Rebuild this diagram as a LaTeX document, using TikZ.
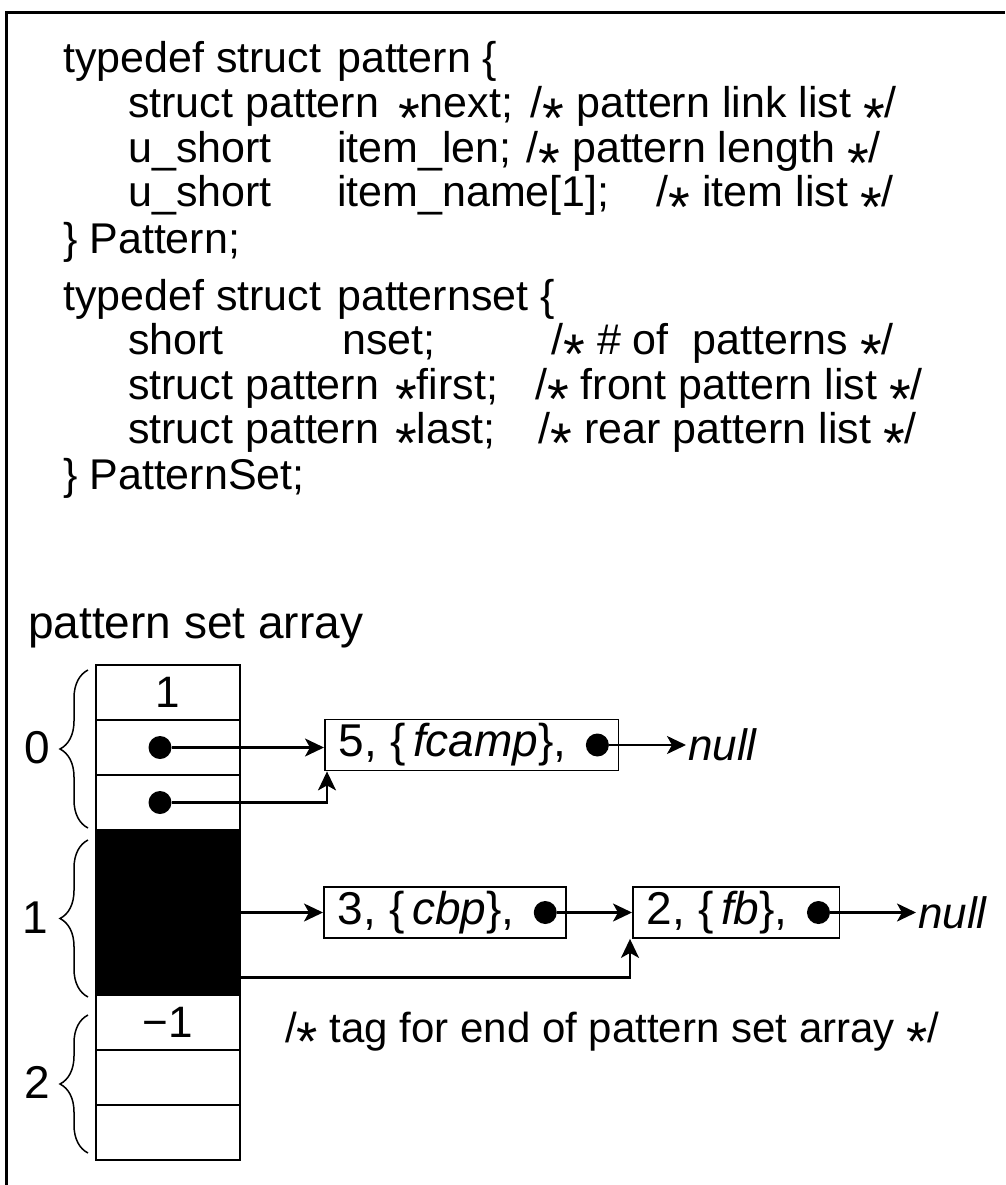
\documentclass[tikz,border=0pt]{standalone}
\usepackage{fontspec}
\setmainfont{Liberation Sans}
\usetikzlibrary{arrows.meta,decorations.pathreplacing,calc}

\newcommand{\cst}{\smash{\raisebox{-0.45em}{\scalebox{1.3}{*}}}}

\tikzset{
  code/.style={anchor=base west, inner sep=0pt, font=\fontsize{43}{45}\selectfont},
  coderight/.style={anchor=base east, inner sep=0pt, font=\fontsize{43}{45}\selectfont},
  cell/.style={draw, line width=1.8pt, minimum width=144pt, minimum height=55pt, inner sep=0pt, font=\fontsize{44}{46}\selectfont},
  rec/.style={draw, line width=1.8pt, anchor=west, minimum height=51pt, inner xsep=14pt, inner ysep=0pt, font=\fontsize{46}{50}\selectfont},
  ptr/.style={circle, fill, inner sep=0pt, minimum size=23pt},
  link/.style={line width=2.2pt, -{Stealth[length=19pt,width=18pt,inset=5pt]}},
  grp/.style={decorate, decoration={brace, amplitude=28pt}, line width=1.5pt},
  lab/.style={font=\fontsize{46}{50}\selectfont},
  nul/.style={anchor=west, inner sep=2pt, font=\fontsize{44}{48}\selectfont\itshape},
}

\begin{document}
\begin{tikzpicture}[x=1pt,y=-1pt]
  \useasboundingbox (0,0) rectangle (1005,1185);
  % frame
  \draw[line width=3pt] (6,1185) -- (6,13) -- (1005,13);

  % struct pattern
  \node[code] (l1a) at (63,73) {typedef struct};
  \node[code] (l1b) at (337,73) {pattern \{};
  \node[code] (l2a) at (128,118) {struct pattern};
  \node[code] (l2b) at (398,118) {\cst next;};
  \node[coderight] (l2c) at (897,118) {/\cst\ pattern link list \cst/};
  \node[code] (l3a) at (128,163) {u\_short};
  \node[code] (l3b) at (337,163) {item\_len;};
  \node[coderight] (l3c) at (881,163) {/\cst\ pattern length \cst/};
  \node[code] (l4a) at (128,207) {u\_short};
  \node[code] (l4b) at (337,207) {item\_name[1];};
  \node[coderight] (l4c) at (894,207) {/\cst\ item list \cst/};
  \node[code] (l5a) at (63,253) {\} Pattern;};

  % struct patternset
  \node[code] (l6a) at (63,310) {typedef struct};
  \node[code] (l6b) at (337,310) {patternset \{};
  \node[code] (l7a) at (128,354) {short};
  \node[code] (l7b) at (342,354) {nset;};
  \node[coderight] (l7c) at (894,354) {/\cst\ \# of\ \ patterns \cst/};
  \node[code] (l8a) at (128,399) {struct pattern};
  \node[code] (l8b) at (395,399) {\cst first;};
  \node[coderight] (l8c) at (923,399) {/\cst\ front pattern list \cst/};
  \node[code] (l9a) at (128,443) {struct pattern};
  \node[code] (l9b) at (395,443) {\cst last;};
  \node[coderight] (l9c) at (917,443) {/\cst\ rear pattern list \cst/};
  \node[code] (l10a) at (63,489) {\} PatternSet;};

  % array
  \node[anchor=base west, inner sep=0pt, font=\fontsize{46}{50}\selectfont] (hd) at (28,638) {pattern set array};
  \foreach \i/\v/\c in {1/1/white,2/{}/white,3/{}/white,4/{}/black,5/{}/black,6/{}/black,7/{−1}/white,8/{}/white,9/{}/white}
    \node[cell, fill=\c] (c\i) at (168,637.5+55*\i) {\v};

  \draw[grp] (88,828) -- (88,670);
  \draw[grp] (88,997) -- (88,840);
  \draw[grp] (88,1153) -- (88,1015);
  \node[lab] (g0) at (37,748) {0};
  \node[lab] (g1) at (35,918) {1};
  \node[lab] (g2) at (37,1082) {2};

  \node[ptr] (da) at ([xshift=-8pt]c2.center) {};
  \node[ptr] (db) at ([xshift=-8pt]c3.center) {};

  % pattern lists
  \node[rec] (p5) at (324,745) {5, \{\,\textit{fcamp}\},\rule{38pt}{0pt}};
  \node[ptr] (q5) at ([xshift=-22pt]p5.east) {};
  \node[nul] (n1) at (686,745) {null};

  \node[rec] (p3) at (323,912.5) {3, \{\,\textit{cbp}\},\rule{38pt}{0pt}};
  \node[ptr] (q3) at ([xshift=-22pt]p3.east) {};
  \node[rec] (p2) at (632,912.5) {2, \{\,\textit{fb}\},\rule{38pt}{0pt}};
  \node[ptr] (q2) at ([xshift=-22pt]p2.east) {};
  \node[nul] (n2) at (916,912.5) {null};

  \draw[link] (da) -- (da -| p5.west);
  \draw[link] (db) -| ([xshift=3pt]p5.south west);
  \draw[link] (q5) -- (n1.west);
  \draw[link] (c5.east) -- (c5.east -| p3.west);
  \draw[link] ([yshift=-10pt]c6.east) -| ([xshift=-2pt]p2.south west);
  \draw[link] (q3) -- (q3 -| p2.west);
  \draw[link] (q2) -- (n2.west);

  \node[anchor=base west, inner sep=0pt, font=\fontsize{42}{46}\selectfont] (tag) at (285,1042) {/\cst\ tag for end of pattern set array \cst/};
\end{tikzpicture}
\end{document}
